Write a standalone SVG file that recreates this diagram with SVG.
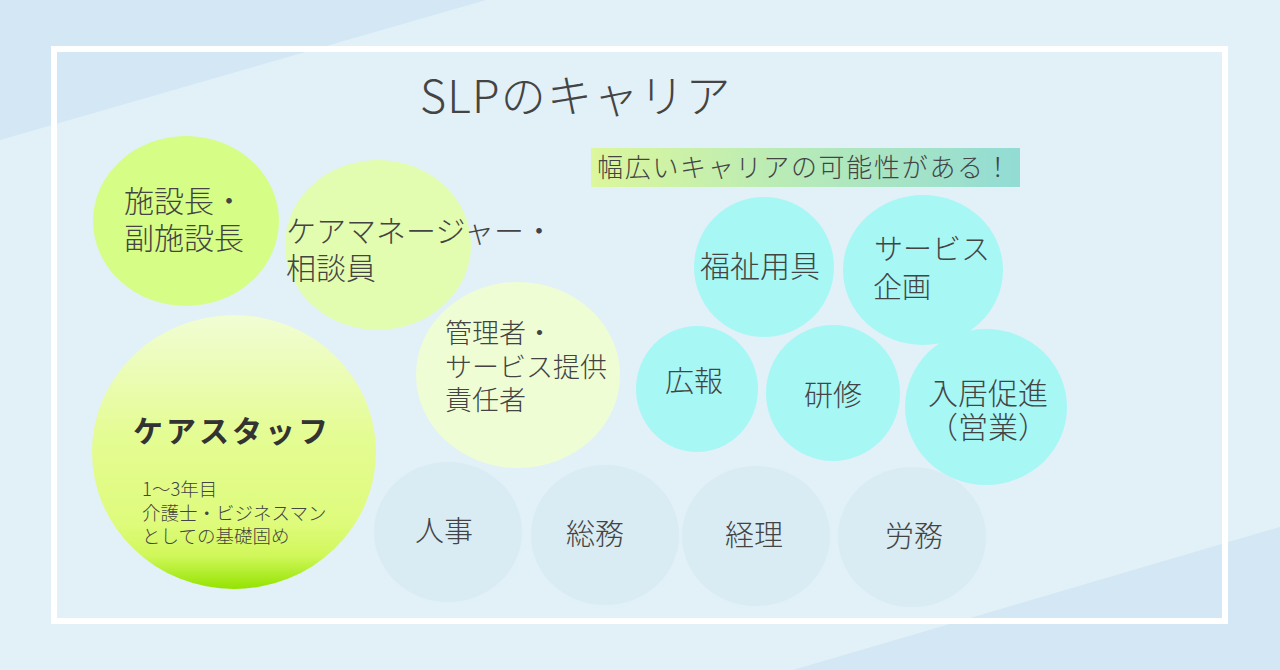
<svg xmlns="http://www.w3.org/2000/svg" width="1280" height="670" viewBox="0 0 1280 670">
<defs>
<linearGradient id="tagGrad" x1="0" y1="0" x2="1" y2="0">
<stop offset="0" stop-color="#dcf79c"/>
<stop offset="0.45" stop-color="#b9ebb6"/>
<stop offset="1" stop-color="#92dcd5"/>
</linearGradient>
<linearGradient id="staffGrad" x1="0" y1="0" x2="0" y2="1">
<stop offset="0" stop-color="#f1fdd4"/>
<stop offset="0.45" stop-color="#e4fc92"/>
<stop offset="0.76" stop-color="#dffb7c"/>
<stop offset="0.88" stop-color="#d0f75a"/>
<stop offset="1" stop-color="#94e300"/>
</linearGradient>
<style>
.t{font-family:"Noto Sans CJK JP","Noto Sans",sans-serif;font-weight:300;fill:#444;}
.lg{fill:#d6fd86;}
.lm{fill:#e3fdb0;}
.ll{fill:#eefdd4;}
.cy{fill:#a7f7f5;}
.gr{fill:#d9ecf3;}
</style>
</defs>
<rect x="0" y="0" width="1280" height="670" fill="#e2f0f8"/>
<polygon points="0,0 486,0 0,140" fill="#d3e7f4"/>
<polygon points="1280,527 1280,670 793,670" fill="#d3e7f4"/>
<rect x="54" y="49" width="1171" height="572" fill="none" stroke="#ffffff" stroke-width="6"/>
<text class="t" x="420" y="113" font-size="45" letter-spacing="1.2">SLPのキャリア</text>
<g id="tagline">
<rect x="591" y="148" width="429" height="39" fill="url(#tagGrad)"/>
<text class="t" x="597" y="177" font-size="26" letter-spacing="1.7">幅広いキャリアの可能性がある！</text>
</g>
<g id="node-shisetsucho">
<ellipse class="lg" cx="186" cy="221" rx="93" ry="85"/>
<text class="t" x="124" y="212" font-size="30">施設長・</text>
<text class="t" x="124" y="249" font-size="30">副施設長</text>
</g>
<g id="node-caremanager">
<ellipse class="lm" cx="378" cy="245" rx="93" ry="85"/>
<text class="t" x="286" y="242" font-size="30">ケアマネージャー・</text>
<text class="t" x="286" y="279" font-size="30">相談員</text>
</g>
<g id="node-kanrisha">
<ellipse class="ll" cx="518" cy="375" rx="102" ry="93"/>
<text class="t" x="445" y="343" font-size="27">管理者・</text>
<text class="t" x="445" y="377" font-size="27">サービス提供</text>
<text class="t" x="445" y="410" font-size="27">責任者</text>
</g>
<g id="node-carestaff">
<ellipse cx="234" cy="452" rx="142" ry="137" fill="url(#staffGrad)"/>
<text class="t" x="133" y="442" font-size="30" style="font-weight:700;fill:#333" letter-spacing="3">ケアスタッフ</text>
<text class="t" x="142" y="496" font-size="18.5">1～3年目</text>
<text class="t" x="142" y="520" font-size="18.5">介護士・ビジネスマン</text>
<text class="t" x="142" y="543" font-size="18.5">としての基礎固め</text>
</g>
<g id="node-jinji">
<ellipse class="gr" cx="448" cy="532" rx="74" ry="70"/>
<text class="t" x="415" y="542" font-size="29">人事</text>
</g>
<g id="node-somu">
<ellipse class="gr" cx="605" cy="535" rx="74" ry="70"/>
<text class="t" x="566" y="545" font-size="29">総務</text>
</g>
<g id="node-keiri">
<ellipse class="gr" cx="756" cy="536" rx="74" ry="70"/>
<text class="t" x="725" y="546" font-size="29">経理</text>
</g>
<g id="node-romu">
<ellipse class="gr" cx="912" cy="537" rx="74" ry="70"/>
<text class="t" x="885" y="547" font-size="29">労務</text>
</g>
<g id="node-fukushi">
<ellipse class="cy" cx="764" cy="267" rx="70" ry="70"/>
<text class="t" x="700" y="277" font-size="30">福祉用具</text>
</g>
<g id="node-service-kikaku">
<ellipse class="cy" cx="923" cy="270" rx="80" ry="75"/>
<text class="t" x="874" y="260" font-size="29">サービス</text>
<text class="t" x="873" y="298" font-size="29">企画</text>
</g>
<g id="node-koho">
<ellipse class="cy" cx="697" cy="389" rx="61" ry="63"/>
<text class="t" x="665" y="392" font-size="29">広報</text>
</g>
<g id="node-kenshu">
<ellipse class="cy" cx="833" cy="393" rx="67" ry="68"/>
<text class="t" x="804" y="406" font-size="29">研修</text>
</g>
<g id="node-nyukyo">
<ellipse class="cy" cx="986" cy="407" rx="81" ry="78"/>
<text class="t" x="928" y="404" font-size="30">入居促進</text>
<text class="t" x="928" y="438" font-size="30">（営業）</text>
</g>
<g id="connectors"/>
</svg>
